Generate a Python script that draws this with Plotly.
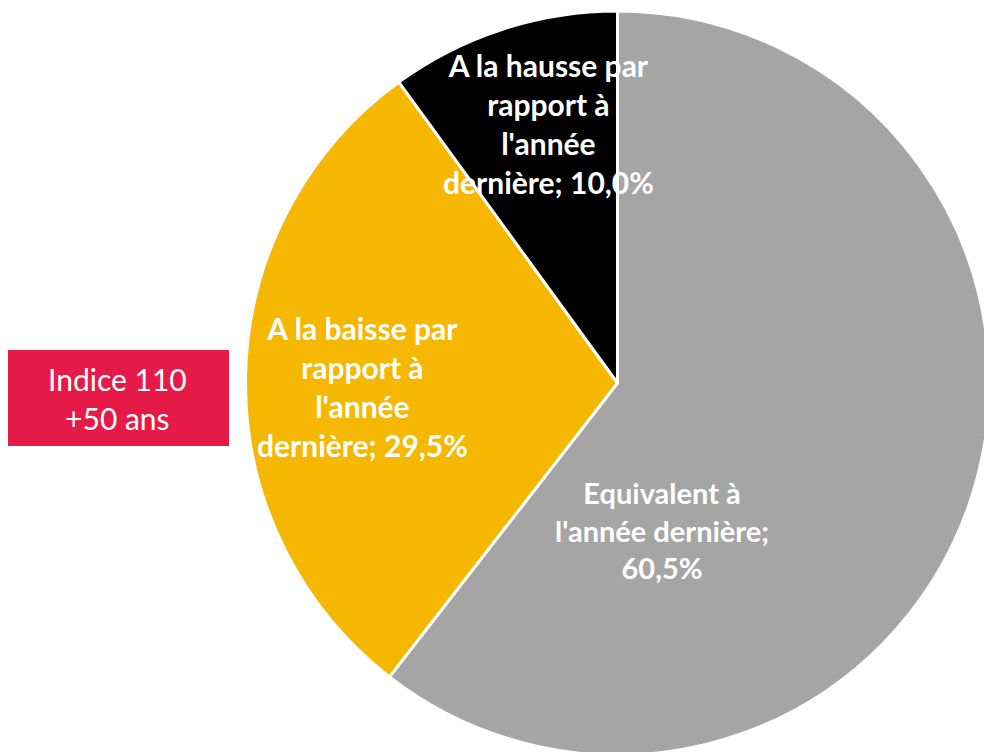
import plotly.graph_objects as go

# Data
categories = ["Equivalent à l'année dernière", "A la baisse par rapport à l'année dernière",
              "A la hausse par rapport à l'année dernière"]
shares = [60.5, 29.5, 10.0]
label_lines = [
    ["Equivalent à", "l'année dernière;"],
    ["A la baisse par", "rapport à", "l'année", "dernière;"],
    ["A la hausse par", "rapport à", "l'année", "dernière;"],
]
colors = ["#A5A5A5", "#F5B700", "#000000"]

W, H = 992, 752
TOP, BOTTOM = 3, 5
OFF = 8  # page body margin shifts the figure by 8px


def px_x(x):
    return (x - OFF) / W


def px_y(y):
    return 1 - (y - OFF - TOP) / (H - TOP - BOTTOM)


# Label placement (pixels in the screenshot) and font sizes
label_pos = [(662, 530), (362, 386), (548, 124)]
label_size = [29, 30, 30]

fig = go.Figure(go.Pie(
    labels=categories,
    values=shares,
    sort=False,
    direction="clockwise",
    rotation=0,
    marker=dict(colors=colors, line=dict(color="white", width=3)),
    textinfo="none",
    hoverinfo="label+percent",
    domain=dict(x=[0.2394, 0.9894], y=[0, 1]),
    showlegend=False,
))

for lines, v, (x, y), sz in zip(label_lines, shares, label_pos, label_size):
    pct = f"{v:.1f}%".replace(".", ",")
    if len(lines) == 2:
        txt = "<br>".join(lines) + "<br>" + pct
    else:
        txt = "<br>".join(lines[:-1] + [lines[-1] + " " + pct])
    fig.add_annotation(
        x=px_x(x), y=px_y(y), xref="paper", yref="paper",
        xanchor="center", yanchor="middle",
        text=f"<b>{txt}</b>", showarrow=False,
        font=dict(family="Lato, Carlito, sans-serif", size=sz, color="white"),
        align="center",
    )

# Red box on the left
fig.add_shape(type="rect", xref="paper", yref="paper",
              x0=px_x(5), x1=px_x(229), y0=px_y(446), y1=px_y(350),
              fillcolor="#E61A46", line=dict(width=0), layer="above")
fig.add_annotation(
    x=px_x(117), y=px_y(398), xref="paper", yref="paper",
    xanchor="center", yanchor="middle",
    text="Indice 110<br>+50 ans", showarrow=False,
    font=dict(family="Lato, Carlito, sans-serif", size=30, color="white"),
    align="center",
)

fig.update_layout(
    width=W, height=H,
    margin=dict(l=0, r=0, t=TOP, b=BOTTOM),
    paper_bgcolor="white",
    plot_bgcolor="white",
)

fig.write_html("out.html")
